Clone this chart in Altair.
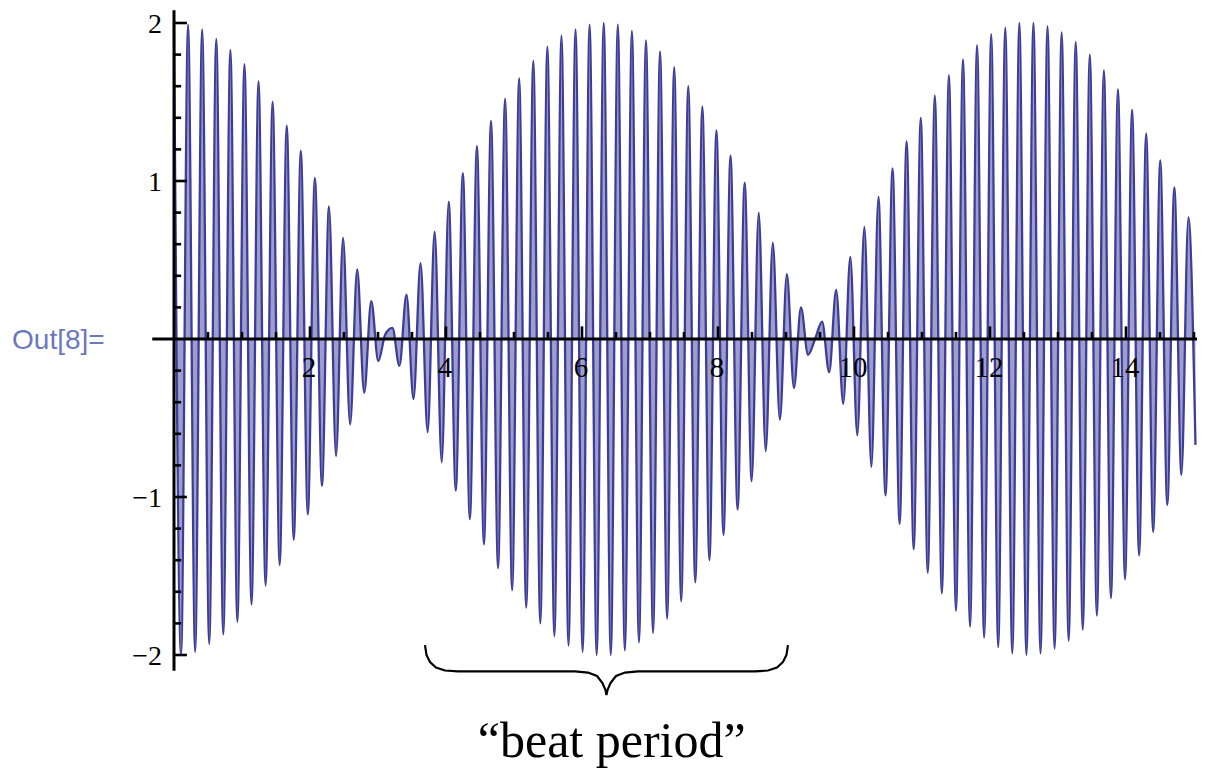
import altair as alt
import pandas as pd

# ---- data -----------------------------------------------------------------
# extrema of the beating signal (time, value)
t_ext = [0.000, 0.104, 0.207, 0.311, 0.414, 0.518, 0.622, 0.725, 0.829, 0.932,
         1.036, 1.140, 1.243, 1.347, 1.450, 1.554, 1.658, 1.761, 1.865, 1.968,
         2.072, 2.176, 2.279, 2.383, 2.486, 2.590, 2.694, 2.797, 2.901, 3.004,
         3.108, 3.212, 3.315, 3.419, 3.522, 3.626, 3.730, 3.833, 3.937, 4.040,
         4.144, 4.248, 4.351, 4.455, 4.558, 4.662, 4.766, 4.869, 4.973, 5.076,
         5.180, 5.284, 5.387, 5.491, 5.594, 5.698, 5.802, 5.905, 6.009, 6.112,
         6.216, 6.320, 6.423, 6.527, 6.630, 6.734, 6.838, 6.941, 7.045, 7.148,
         7.252, 7.356, 7.459, 7.563, 7.666, 7.770, 7.874, 7.977, 8.081, 8.184,
         8.288, 8.392, 8.495, 8.599, 8.702, 8.806, 8.910, 9.013, 9.117, 9.220,
         9.324, 9.428, 9.531, 9.635, 9.738, 9.842, 9.946, 10.049, 10.153, 10.256,
         10.360, 10.464, 10.567, 10.671, 10.774, 10.878, 10.982, 11.085, 11.189, 11.292,
         11.396, 11.500, 11.603, 11.707, 11.810, 11.914, 12.018, 12.121, 12.225, 12.328,
         12.432, 12.536, 12.639, 12.743, 12.846, 12.950, 13.054, 13.157, 13.261, 13.364,
         13.468, 13.572, 13.675, 13.779, 13.882, 13.986, 14.090, 14.193, 14.297, 14.400,
         14.504, 14.608, 14.711, 14.815, 14.918, 15.022]
v_ext = [2.00, -2.00, 1.99, -1.98, 1.96, -1.93, 1.90, -1.87, 1.83, -1.79,
         1.74, -1.68, 1.63, -1.56, 1.50, -1.43, 1.35, -1.27, 1.19, -1.11,
         1.02, -0.93, 0.84, -0.74, 0.64, -0.54, 0.44, -0.34, 0.24, -0.14,
         0.03, 0.07, -0.17, 0.28, -0.38, 0.48, -0.59, 0.68, -0.78, 0.87,
         -0.96, 1.05, -1.14, 1.22, -1.30, 1.38, -1.45, 1.52, -1.59, 1.65,
         -1.70, 1.76, -1.80, 1.85, -1.88, 1.92, -1.94, 1.96, -1.98, 1.99,
         -2.00, 2.00, -2.00, 1.99, -1.97, 1.95, -1.92, 1.89, -1.86, 1.82,
         -1.77, 1.72, -1.66, 1.60, -1.54, 1.47, -1.40, 1.32, -1.24, 1.16,
         -1.08, 0.99, -0.90, 0.80, -0.71, 0.61, -0.51, 0.41, -0.31, 0.20,
         -0.10, 0.00, 0.11, -0.21, 0.31, -0.41, 0.52, -0.61, 0.71, -0.81,
         0.90, -0.99, 1.08, -1.17, 1.25, -1.33, 1.40, -1.48, 1.54, -1.61,
         1.67, -1.72, 1.77, -1.82, 1.86, -1.89, 1.93, -1.95, 1.97, -1.99,
         2.00, -2.00, 2.00, -1.99, 1.98, -1.96, 1.94, -1.91, 1.88, -1.84,
         1.80, -1.75, 1.70, -1.64, 1.58, -1.52, 1.45, -1.37, 1.30, -1.22,
         1.13, -1.05, 0.96, -0.86, 0.77, -0.67]

x_major = [2, 4, 6, 8, 10, 12, 14]
x_major_labels = ["2", "4", "6", "8", "10", "12", "14"]
x_minor = [0.5, 1, 1.5, 2.5, 3, 3.5, 4.5, 5, 5.5, 6.5, 7, 7.5, 8.5, 9, 9.5,
           10.5, 11, 11.5, 12.5, 13, 13.5, 14.5, 15]
y_major = [2, 1, -1, -2]
y_major_labels = ["2", "1", "\u22121", "\u22122"]
y_minor = [1.8, 1.6, 1.4, 1.2, 0.8, 0.6, 0.4, 0.2,
           -0.2, -0.4, -0.6, -0.8, -1.2, -1.4, -1.6, -1.8]

# curly brace under one beat (data units)
brace_x = [3.691, 3.713, 3.765, 3.853, 3.985, 4.176, 5.897, 6.088, 6.221, 6.301,
           6.346, 6.360, 6.375, 6.419, 6.500, 6.632, 6.824, 8.544, 8.735, 8.868,
           8.956, 9.007, 9.029]
brace_y = [-1.937, -2.000, -2.044, -2.079, -2.098, -2.104, -2.104, -2.111, -2.133, -2.177,
           -2.222, -2.253, -2.222, -2.177, -2.133, -2.111, -2.104, -2.104, -2.098, -2.079,
           -2.044, -2.000, -1.937]

# ---- chart -----------------------------------------------------------------
LINE = "#3d3d99"
XS = alt.Scale(domain=[0, 15.015], nice=False, zero=False)
YS = alt.Scale(domain=[-2, 2], nice=False, zero=False)


def X(f):
    return alt.X(f, type="quantitative", scale=XS, axis=None)


def Y(f):
    return alt.Y(f, type="quantitative", scale=YS, axis=None)


curve = pd.DataFrame({"t": t_ext, "v": v_ext})
curve["z"] = 0.0

area = alt.Chart(curve).mark_area(
    interpolate="monotone", color=LINE, opacity=0.5
).encode(x=X("t"), y=Y("v"), y2=alt.Y2("z:Q"))

line = alt.Chart(curve).mark_line(
    interpolate="monotone", color=LINE, strokeWidth=2.3
).encode(x=X("t"), y=Y("v"))

axes_df = pd.DataFrame({"x": [0.0, -0.32], "x2": [0.0, 15.13],
                        "y": [2.08, 0.0], "y2": [-2.10, 0.0]})
axes = alt.Chart(axes_df).mark_rule(color="black", strokeWidth=3).encode(
    x=X("x"), x2="x2:Q", y=Y("y"), y2="y2:Q")

xt = pd.DataFrame({
    "x": x_major + x_minor,
    "y": [0.0] * (len(x_major) + len(x_minor)),
    "y2": [0.08] * len(x_major) + [0.045] * len(x_minor),
})
xticks = alt.Chart(xt).mark_rule(color="black", strokeWidth=2.6).encode(
    x=X("x"), y=Y("y"), y2="y2:Q")

yt = pd.DataFrame({
    "y": y_major + y_minor,
    "x": [0.0] * (len(y_major) + len(y_minor)),
    "x2": [0.19] * len(y_major) + [0.105] * len(y_minor),
})
yticks = alt.Chart(yt).mark_rule(color="black", strokeWidth=2.6).encode(
    x=X("x"), x2="x2:Q", y=Y("y"))

xl = pd.DataFrame({"x": x_major, "y": [0.0] * len(x_major), "label": x_major_labels})
xlabels = alt.Chart(xl).mark_text(
    font="Liberation Serif", fontSize=29, align="center", baseline="alphabetic",
    dx=-1, dy=38, color="black"
).encode(x=X("x"), y=Y("y"), text="label:N")

yl = pd.DataFrame({"y": y_major, "x": [0.0] * len(y_major), "label": y_major_labels})
ylabels = alt.Chart(yl).mark_text(
    font="Liberation Serif", fontSize=28, align="right", baseline="alphabetic",
    dx=-12, dy=10, color="black"
).encode(x=X("x"), y=Y("y"), text="label:N")

out_df = pd.DataFrame({"x": [-2.382], "y": [0.0], "label": ["Out[8]="]})
out_label = alt.Chart(out_df).mark_text(
    font="Liberation Sans", fontSize=28, align="left", baseline="alphabetic",
    dy=10, color="#6a78c0"
).encode(x=X("x"), y=Y("y"), text="label:N")

brace_df = pd.DataFrame({"x": brace_x, "y": brace_y, "i": list(range(len(brace_x)))})
brace = alt.Chart(brace_df).mark_line(color="black", strokeWidth=2.2).encode(
    x=X("x"), y=Y("y"), order="i:Q")

note_df = pd.DataFrame({"x": [6.437], "y": [-2.645], "label": ["\u201cbeat period\u201d"]})
note = alt.Chart(note_df).mark_text(
    font="Liberation Serif", fontSize=50, align="center", baseline="alphabetic",
    color="black"
).encode(x=X("x"), y=Y("y"), text="label:N")

chart = alt.layer(
    area, line, axes, xticks, yticks, xlabels, ylabels, out_label, brace, note
).properties(
    width=1021, height=632,
    padding={"left": 166, "top": 15, "right": 2, "bottom": 114},
    autosize=alt.AutoSizeParams(type="none"),
    background="white",
).configure_view(strokeWidth=0)

chart.save("out.html", embed_options={"renderer": "svg", "actions": False})
